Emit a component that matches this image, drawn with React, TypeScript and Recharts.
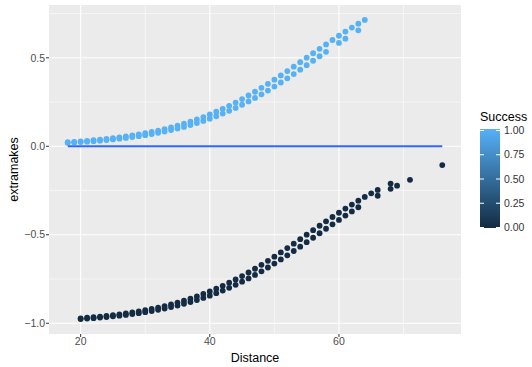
import React from 'react'
import {
  ScatterChart,
  Scatter,
  XAxis,
  YAxis,
  CartesianGrid,
  ReferenceLine,
} from 'recharts'

// made kicks (Success = 1), two rows of points
const madeDistA = [18, 19, 20, 21, 22, 23, 24, 25, 26, 27, 28, 29, 30, 31, 32, 33, 34, 35, 36, 37, 38, 39, 40, 41, 42, 43, 44, 45, 46, 47, 48, 49, 50, 51, 52, 53, 54, 55, 56, 57, 58, 59, 60, 61, 62, 63, 64]
const madeA = [0.023, 0.0254, 0.028, 0.0309, 0.0341, 0.0376, 0.0414, 0.0456, 0.0503, 0.0553, 0.0609, 0.067, 0.0736, 0.0808, 0.0886, 0.0972, 0.1064, 0.1165, 0.1273, 0.139, 0.1516, 0.1651, 0.1796, 0.195, 0.2114, 0.2288, 0.2472, 0.2665, 0.2868, 0.308, 0.33, 0.3528, 0.3763, 0.4003, 0.4249, 0.4498, 0.4751, 0.5004, 0.5257, 0.5509, 0.5758, 0.6004, 0.6244, 0.6479, 0.6707, 0.6927, 0.7138]
const madeDistB = [18, 19, 20, 21, 22, 23, 24, 25, 26, 27, 28, 29, 30, 31, 32, 33, 34, 35, 36, 37, 38, 39, 40, 41, 42, 43, 44, 45, 46, 47, 48, 49, 50, 51, 52, 53, 54, 55, 56, 57, 58, 60, 61, 63]
const madeB = [0.0195, 0.0215, 0.0237, 0.0262, 0.0289, 0.0319, 0.0352, 0.0388, 0.0427, 0.0471, 0.0519, 0.0571, 0.0628, 0.069, 0.0758, 0.0833, 0.0913, 0.1001, 0.1096, 0.1199, 0.131, 0.143, 0.1559, 0.1697, 0.1845, 0.2002, 0.2169, 0.2346, 0.2533, 0.273, 0.2936, 0.315, 0.3373, 0.3604, 0.384, 0.4082, 0.4329, 0.458, 0.4832, 0.5086, 0.5339, 0.5839, 0.6082, 0.6553]

// missed kicks (Success = 0)
const missDistA = [20, 21, 22, 23, 24, 25, 26, 27, 28, 29, 30, 31, 32, 33, 34, 35, 36, 37, 38, 39, 40, 41, 42, 43, 44, 45, 46, 47, 48, 49, 50, 51, 52, 53, 54, 55, 56, 57, 58, 59, 60, 61, 62, 63, 64, 65, 66, 68, 76]
const missA = [-0.972, -0.9691, -0.9659, -0.9624, -0.9586, -0.9544, -0.9497, -0.9447, -0.9391, -0.933, -0.9264, -0.9192, -0.9114, -0.9028, -0.8936, -0.8835, -0.8727, -0.861, -0.8484, -0.8349, -0.8204, -0.805, -0.7886, -0.7712, -0.7528, -0.7335, -0.7132, -0.692, -0.67, -0.6472, -0.6237, -0.5997, -0.5751, -0.5502, -0.5249, -0.4996, -0.4743, -0.4491, -0.4242, -0.3996, -0.3756, -0.3521, -0.3293, -0.3073, -0.2862, -0.266, -0.2466, -0.2109, -0.1062]
const missDistB = [20, 21, 22, 23, 24, 25, 26, 27, 28, 29, 30, 31, 32, 33, 34, 35, 36, 37, 38, 39, 40, 41, 42, 43, 44, 45, 46, 47, 48, 49, 50, 51, 52, 53, 54, 55, 56, 57, 58, 59, 60, 61, 62, 63, 66, 68, 69, 71]
const missB = [-0.9763, -0.9738, -0.9711, -0.9681, -0.9648, -0.9612, -0.9573, -0.9529, -0.9481, -0.9429, -0.9372, -0.931, -0.9242, -0.9167, -0.9087, -0.8999, -0.8904, -0.8801, -0.869, -0.857, -0.8441, -0.8303, -0.8155, -0.7998, -0.7831, -0.7654, -0.7467, -0.727, -0.7064, -0.685, -0.6627, -0.6396, -0.616, -0.5918, -0.5671, -0.542, -0.5168, -0.4914, -0.4661, -0.441, -0.4161, -0.3918, -0.3679, -0.3447, -0.2795, -0.2406, -0.2225, -0.1894]

// smooth line
const smoothX = [18, 76]
const smoothY = [0, 0]

const xTicks = [20, 40, 60]
const xMinor = [30, 50, 70]
const yTicks = [-1, -0.5, 0, 0.5]
const yMinor = [-0.75, -0.25, 0.25, 0.75]
const legendTicks = [0, 0.25, 0.5, 0.75, 1]

const HIGH = '#56B1F7'
const LOW = '#132B43'
const FONT = '"Liberation Sans", Arial, sans-serif'

const toPoints = (xs: number[], ys: number[]) => xs.map((x, i) => ({ x, y: ys[i] }))

const madeData = [...toPoints(madeDistA, madeA), ...toPoints(madeDistB, madeB)]
const missData = [...toPoints(missDistA, missA), ...toPoints(missDistB, missB)]
const smoothData = toPoints(smoothX, smoothY)

const dot = (color: string) => (props: any) => (
  <circle cx={props.cx} cy={props.cy} r={2.9} fill={color} />
)

const fmtY = (v: number) => v.toFixed(1).replace('-', '\u2212')

function ColorLegend() {
  const barTop = 129
  const barBottom = 228
  const tickY = (v: number) => 227.5 - v * 97
  return (
    <svg
      width={532}
      height={367}
      style={{ position: 'absolute', left: 0, top: 0, pointerEvents: 'none' }}
    >
      <defs>
        <linearGradient id="succ" x1="0" y1="1" x2="0" y2="0">
          <stop offset="0%" stopColor={LOW} />
          <stop offset="100%" stopColor={HIGH} />
        </linearGradient>
      </defs>
      <text x={480} y={121} fontSize={12.5} fill="#000" fontFamily={FONT}>
        Success
      </text>
      <rect x={480} y={barTop} width={20} height={barBottom - barTop} fill="url(#succ)" />
      {legendTicks.map((v) => (
        <g key={v}>
          <line x1={480} x2={484} y1={tickY(v)} y2={tickY(v)} stroke="#fff" strokeWidth={1} />
          <line x1={496} x2={500} y1={tickY(v)} y2={tickY(v)} stroke="#fff" strokeWidth={1} />
          <text x={504} y={tickY(v) + 3.7} fontSize={10.5} fill="#333" fontFamily={FONT}>
            {v.toFixed(2)}
          </text>
        </g>
      ))}
    </svg>
  )
}

export default function App() {
  return (
    <div style={{ position: 'absolute', left: 0, top: 0, width: 532, height: 367, background: '#fff', fontFamily: FONT }}>
      <ScatterChart width={532} height={367} margin={{ top: 5, right: 71, bottom: 0, left: 0 }}>
        <CartesianGrid fill="#EBEBEB" horizontal={false} vertical={false} />
        {xMinor.map((v) => (
          <ReferenceLine key={`xm${v}`} x={v} stroke="#fff" strokeWidth={0.55} />
        ))}
        {yMinor.map((v) => (
          <ReferenceLine key={`ym${v}`} y={v} stroke="#fff" strokeWidth={0.55} />
        ))}
        {xTicks.map((v) => (
          <ReferenceLine key={`xM${v}`} x={v} stroke="#fff" strokeWidth={1.1} />
        ))}
        {yTicks.map((v) => (
          <ReferenceLine key={`yM${v}`} y={v} stroke="#fff" strokeWidth={1.1} />
        ))}
        <XAxis
          type="number"
          dataKey="x"
          domain={[15.1, 78.9]}
          ticks={xTicks}
          height={33}
          axisLine={false}
          tickSize={3}
          tickMargin={1}
          tickLine={{ stroke: '#333333' }}
          tick={{ fill: '#4D4D4D', fontSize: 10.5 }}
          label={{ value: 'Distance', position: 'insideBottom', offset: 5.5, fill: '#000', fontSize: 12.5 }}
        />
        <YAxis
          type="number"
          dataKey="y"
          domain={[-1.0608, 0.7983]}
          ticks={yTicks}
          width={49}
          axisLine={false}
          tickSize={3}
          tickMargin={1}
          tickLine={{ stroke: '#333333' }}
          tick={{ fill: '#4D4D4D', fontSize: 10.5 }}
          tickFormatter={fmtY}
          label={{
            content: () => (
              <text
                x={17.5}
                y={169.5}
                transform="rotate(-90 17.5 169.5)"
                textAnchor="middle"
                fontSize={12.5}
                fill="#000"
              >
                extramakes
              </text>
            ),
          }}
        />
        <Scatter data={missData} shape={dot(LOW)} isAnimationActive={false} />
        <Scatter data={madeData} shape={dot(HIGH)} isAnimationActive={false} />
        <Scatter
          data={smoothData}
          line={{ stroke: '#3366FF', strokeWidth: 2.2 }}
          shape={() => <g />}
          isAnimationActive={false}
        />
      </ScatterChart>
      <ColorLegend />
    </div>
  )
}
